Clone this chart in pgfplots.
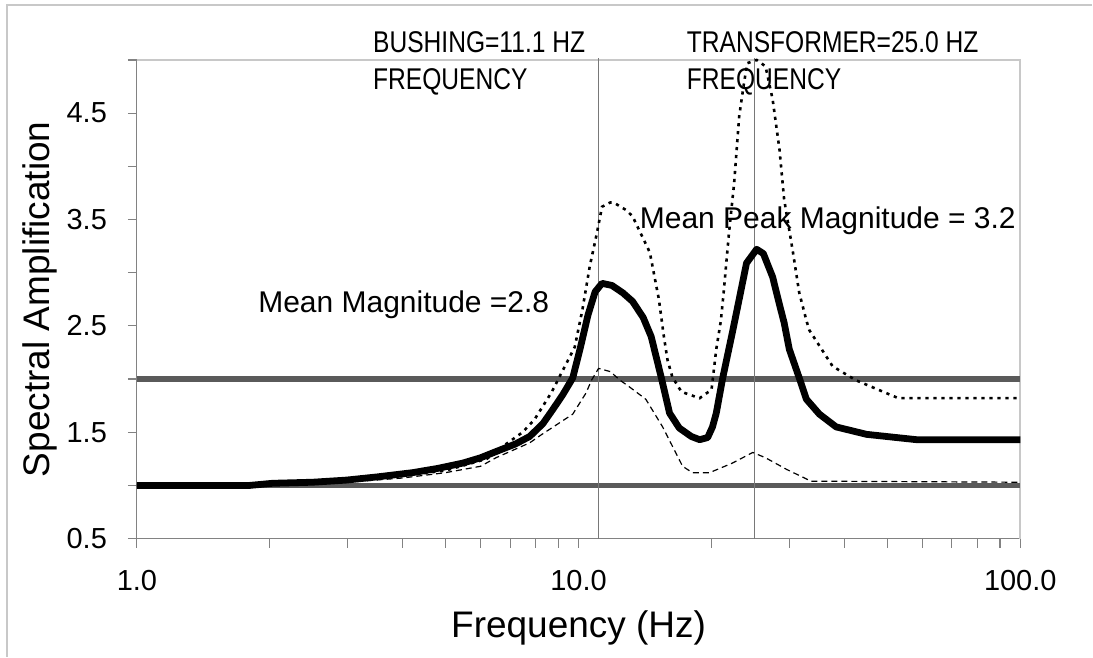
\documentclass[border=0pt]{standalone}
\usepackage{fontspec}
\setmainfont{Liberation Sans}
\usepackage{graphicx}
\usepackage{pgfplots}
\pgfplotsset{compat=1.18}

\definecolor{refline}{RGB}{90,90,90}
\definecolor{axisgray}{RGB}{130,130,130}
\definecolor{framegray}{RGB}{200,200,200}
\definecolor{markgray}{RGB}{120,120,120}

\begin{document}
\begin{tikzpicture}[x=1pt,y=1pt]
  % page extent and outer chart frame
  \path (0,0) rectangle (546.5,328.5);
  \draw[framegray, line width=0.8pt] (3.5,0) -- (3.5,326) -- (546.5,326);

  \begin{axis}[
    at={(68.5pt,59pt)}, anchor=south west,
    scale only axis, width=442pt, height=239.5pt,
    xmode=log, xmin=1, xmax=100, ymin=0.5, ymax=5,
    xtick={1,10,100}, xticklabels={1.0,10.0,100.0},
    minor xtick={2,3,4,5,6,7,8,9,20,30,40,50,60,70,80,90},
    ytick={0.5,1.5,2.5,3.5,4.5},
    minor ytick={1,2,3,4,5},
    yticklabel style={/pgf/number format/fixed, /pgf/number format/fixed zerofill,
      /pgf/number format/precision=1, xshift=-7pt},
    /pgf/number format/assume math mode=true,
    xtick pos=bottom, ytick pos=left,
    tick align=outside,
    major tick length=4.5pt, minor tick length=4.5pt,
    every tick/.style={axisgray, line width=0.6pt},
    minor tick style={axisgray, line width=0.6pt},
    axis line style={axisgray, line width=0.6pt},
    tick label style={font=\fontsize{14.5}{16}\selectfont},
    xticklabel style={yshift=-8pt},
    label style={font=\fontsize{18.5}{21}\selectfont},
    xlabel={Frequency (Hz)},
    ylabel={Spectral Amplification},
    xlabel style={at={(axis description cs:0.5,-0.186)}, anchor=center},
    ylabel style={at={(axis description cs:-0.11,0.5)}, anchor=center},
    clip=false,
  ]
    % light top and right borders of the plot area
    \draw[framegray, line width=0.8pt] (rel axis cs:0,1) -- (rel axis cs:1,1) -- (rel axis cs:1,0);

    % reference levels
    \addplot[refline, line width=2.6pt] coordinates {(1,1.0) (100,1.0)};
    \addplot[refline, line width=2.6pt] coordinates {(1,2.0) (100,2.0)};

    % bushing and transformer frequencies
    \addplot[markgray, line width=0.5pt] coordinates {(11.1,0.5) (11.1,5.02)};
    \addplot[markgray, line width=0.5pt] coordinates {(25.0,0.5) (25.0,5.02)};

    % lower bound
    \addplot[black, line width=0.6pt, dash pattern=on 3pt off 2pt] coordinates {
      (1,1.0) (2,1.0) (3,1.03) (4,1.07) (5,1.12) (6,1.18) (6.5,1.26)
      (7.75,1.40) (8.26,1.48) (9.7,1.67) (10.4,1.87) (10.7,1.99) (11.1,2.10)
      (11.8,2.07) (12.4,1.99) (13.0,1.93) (14.2,1.81) (15.5,1.55) (17.2,1.18)
      (18.1,1.12) (19.8,1.12) (22.3,1.21) (24.8,1.31) (26.5,1.26) (29.6,1.15)
      (33.6,1.04) (100,1.03)};

    % upper bound
    \addplot[black, line width=1.3pt, dash pattern=on 1.6pt off 2.4pt] coordinates {
      (1,1.0) (2,1.02) (3,1.05) (4,1.09) (5,1.14) (6.2,1.25) (6.7,1.36)
      (7.47,1.50) (7.95,1.62) (8.7,1.88) (9.05,2.02) (9.8,2.30) (10.2,2.65)
      (10.6,3.06) (11.0,3.37) (11.3,3.62) (11.8,3.66) (12.0,3.66) (12.8,3.59)
      (13.25,3.53) (14.5,3.19) (15.2,2.75) (15.6,2.40) (15.9,2.18) (16.3,2.02)
      (17.1,1.88) (18.8,1.82) (20.0,1.90) (20.5,2.28) (21.0,2.55) (21.3,2.81)
      (21.9,3.37) (22.5,3.84) (23.1,4.47) (23.7,4.79) (24.1,4.97) (25.3,5.0)
      (26.5,4.94) (27.5,4.63) (28.5,4.16) (29.2,3.69) (30.5,3.22) (31.6,2.81)
      (32.8,2.55) (33.3,2.46) (37.6,2.12) (42.4,1.99) (49.6,1.87) (53,1.82)
      (100,1.82)};

    % mean response
    \addplot[black, line width=3.4pt, line join=round] coordinates {
      (1,1.0) (1.8,1.0) (2.03,1.02) (2.5,1.03) (2.98,1.05) (3.5,1.08) (4.21,1.12)
      (4.8,1.16) (5.47,1.21) (6.0,1.26) (6.52,1.32) (7.2,1.39) (7.75,1.46)
      (8.3,1.58) (8.73,1.71) (9.2,1.85) (9.7,2.01) (10.1,2.30) (10.5,2.60)
      (10.9,2.82) (11.3,2.90) (11.9,2.88) (12.6,2.81) (13.25,2.73) (14.0,2.58)
      (14.6,2.40) (15.4,2.01) (16.07,1.68) (16.9,1.54) (18.0,1.46) (18.8,1.43)
      (19.6,1.45) (20.1,1.55) (20.5,1.68) (21.2,2.01) (22.3,2.44) (23.1,2.75)
      (24.0,3.09) (25.3,3.22) (26.2,3.18) (27.5,2.96) (28.5,2.70) (29.2,2.53)
      (30.0,2.28) (31.6,2.01) (32.8,1.81) (35.1,1.67) (38.3,1.55) (44.9,1.48)
      (58.2,1.43) (100,1.43)};

    % annotations
    \begin{scope}[every node/.style={font=\fontsize{15}{17}\selectfont, inner sep=0pt}]
      \node[anchor=base west] at (axis cs:3.42,5.07) {\scalebox{0.82}[1]{BUSHING=11.1 HZ}};
      \node[anchor=base west] at (axis cs:3.42,4.72) {\scalebox{0.82}[1]{FREQUENCY}};
      \node[anchor=base west] at (axis cs:17.55,5.07) {\scalebox{0.82}[1]{TRANSFORMER=25.0 HZ}};
      \node[anchor=base west] at (axis cs:17.55,4.72) {\scalebox{0.82}[1]{FREQUENCY}};
    \end{scope}
    \begin{scope}[every node/.style={font=\fontsize{15}{17}\selectfont, inner sep=0pt}]
      \node[anchor=base west] at (axis cs:1.88,2.63) {Mean Magnitude =2.8};
      \node[anchor=base west] at (axis cs:13.74,3.42) {Mean Peak Magnitude = 3.2};
    \end{scope}
  \end{axis}
\end{tikzpicture}
\end{document}
